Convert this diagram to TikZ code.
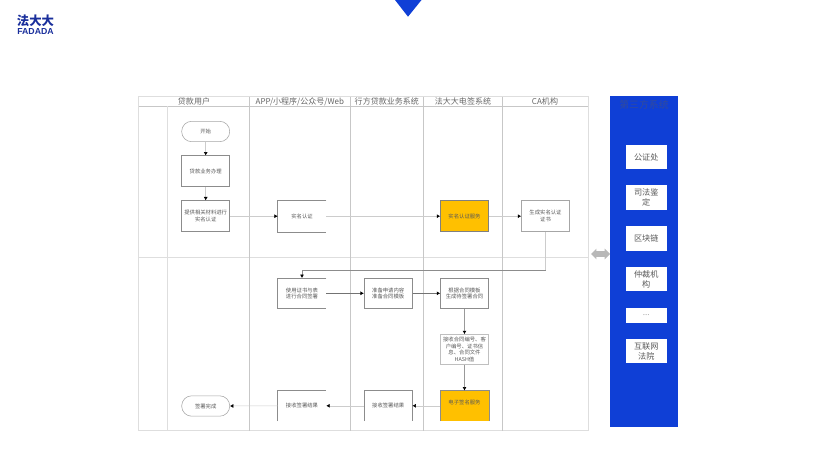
\documentclass[tikz,border=0pt]{standalone}
\usepackage{fontspec}
\newfontfamily\cjk{Noto Sans CJK SC}
\setmainfont{Liberation Sans}
\usetikzlibrary{arrows.meta,shapes.arrows}
\definecolor{fddblue}{HTML}{0F3FD6}
\definecolor{fddnavy}{HTML}{1A2F9C}
\definecolor{fddyellow}{HTML}{FFC000}
\definecolor{fddtitle}{HTML}{334B9A}
\begin{document}
\begin{tikzpicture}[x=0.025cm,y=-0.025cm]
\tikzset{
    laneline/.style={line width=.5pt, color=black!22},
    laneout/.style={line width=.5pt, color=black!13},
    lanehead/.style={font=\cjk\fontsize{5.7}{7}\selectfont, text=black!60, inner sep=0pt},
    boxtext/.style={font=\cjk\fontsize{3.8}{4.7}\selectfont, text=black!65, align=center, inner sep=0pt,
        minimum width=1.2cm, minimum height=.75cm},
    part/.style={boxtext, draw=black!45, line width=.5pt, fill=white},
    partD/.style={boxtext, draw=black!25, line width=.5pt, fill=white},
    partF/.style={boxtext, draw=black!50, line width=.5pt, fill=fddyellow},
    partO/.style={boxtext},
    edgeO/.style={line width=.5pt, color=black!45},
    term/.style={boxtext, draw=black!35, line width=.4pt, rounded corners=.25cm, fill=white,
        minimum height=.51cm},
    flow/.style={line width=.35pt, color=black!20, -{Latex[color=black,length=2.4pt,width=2.8pt]}},
    flowD/.style={line width=.4pt, color=black!55, -{Latex[color=black,length=2.4pt,width=2.8pt]}},
    third/.style={font=\cjk\fontsize{5.8}{7.1}\selectfont, text=black!65, align=center, fill=white,
        inner sep=0pt, minimum width=1.02cm}}
\def\hh{.775cm}

\useasboundingbox (0,0) rectangle (820,460);

% logo and top mark
\fill[fddblue] (395,0)--(421.5,0)--(408,16.7)--cycle;
\node[font=\cjk\bfseries\fontsize{8.8}{9}\selectfont, text=fddnavy, inner sep=0pt] (logocn) at (35.5,21) {法大大};
\node[font=\bfseries\fontsize{6.2}{6.2}\selectfont, text=fddnavy, inner sep=0pt] (logoen) at (35.5,31.3) {FADADA};

% lanes
\draw[laneout] (138.7,96.7) rectangle (588,430.7);
\draw[laneline] (138.7,106.3)--(588,106.3);
\draw[laneout] (138.7,257.3)--(588,257.3);
\draw[laneout] (167.3,106.3)--(167.3,430.7);
\draw[laneline] (249.3,96.7)--(249.3,430.7);
\draw[laneline] (350.3,96.7)--(350.3,430.7);
\draw[laneline] (423.3,96.7)--(423.3,430.7);
\draw[laneline] (502.3,96.7)--(502.3,430.7);

\node[lanehead] (headA) at (194,101.5) {贷款用户};
\node[lanehead] (headB) at (299.8,101.5) {APP/小程序/公众号/Web};
\node[lanehead] (headC) at (386.8,101.5) {行方贷款业务系统};
\node[lanehead] (headD) at (463,101.5) {法大大电签系统};
\node[lanehead] (headE) at (545,101.5) {CA机构};

% upper row
\node[term] (start) at (205.7,131.5) {开始};
\node[part, minimum height=\hh] (apply) at (205.7,171.3) {贷款业务办理};
\node[part, minimum height=\hh] (material) at (205.7,216.2) {提供相关材料进行\\实名认证};
\node[partO, minimum height=\hh] (realname) at (302,216.2) {实名认证};
\node[partF, minimum height=\hh] (realserv) at (464.5,216.2) {实名认证服务};
\node[part, draw=black!35, minimum height=\hh] (cert) at (545.5,216.2) {生成实名认证\\证书};
\draw[edgeO] (realname.north east)--(realname.north west)--(realname.south west)--(realname.south east);

% lower row
\node[partO] (sign) at (302,293.3) {使用证书与表\\进行合同签署};
\node[part] (prepare) at (388.2,293.3) {准备申请内容\\准备合同模板};
\node[part] (gen) at (464.5,293.3) {根据合同模板\\生成待签署合同};
\node[partD] (hash) at (464.5,349.5) {接收合同编号、客\\户编号、证书信\\息、合同文件\\HASH值};
\node[partF, draw=none, text depth=5pt] (esign) at (464.5,405.8) {电子签名服务};
\node[partO] (bankres) at (388.2,405.8) {接收签署结果};
\node[partO] (appres) at (302,405.8) {接收签署结果};
\node[term] (finish) at (205.7,406) {签署完成};
\draw[edgeO] (sign.north east)--(sign.north west)--(sign.south west)--(sign.south east);
\draw[edgeO] (esign.south west)--(esign.north west)--(esign.north east)--(esign.south east);
\draw[edgeO] (bankres.south west)--(bankres.north west)--(bankres.north east)--(bankres.south east);
\draw[edgeO] (appres.south west)--(appres.north west)--(appres.north east);

% connectors
\path (545.5,270.7) coordinate(bend);
\draw[flow] (start)--(apply);
\draw[flow] (apply)--(material);
\draw[flow] (material)--(realname);
\draw[flow] (realname)--(realserv);
\draw[flow] (realserv)--(cert);
\draw[line width=.35pt, color=black!20] (cert)--(bend);
\draw[flowD, line width=.7pt, color=black!45] (bend)-|(sign);
\draw[flowD] (sign)--(prepare);
\draw[flowD] (prepare)--(gen);
\draw[flowD, color=black!40] (gen)--(hash);
\draw[flowD, color=black!40] (hash)--(esign);
\draw[flow] (esign)--(bankres);
\draw[flow] (bankres)--(appres);
\draw[flow] (appres)--(finish);

% third party panel
\node[fill=fddblue, inner sep=0pt, minimum width=1.685cm, minimum height=8.26cm] (panel) at (644,261.5) {};
\node[font=\cjk\fontsize{7}{8}\selectfont, text=fddtitle, inner sep=0pt] (thirdtitle) at (644,104.7) {第三方系统};
\node[third, minimum height=.6cm] (notary) at (646.3,157) {公证处};
\node[third, minimum height=.625cm] (forensic) at (646.3,197.5) {司法鉴\\定};
\node[third, minimum height=.62cm] (chain) at (646.3,238.3) {区块链};
\node[third, minimum height=.6cm] (arbit) at (646.3,279) {仲裁机\\构};
\node[third, minimum height=.375cm, text=black!35] (more) at (646.3,315.5) {...};
\node[third, minimum height=.6cm] (court) at (646.3,351.3) {互联网\\法院};
\node[double arrow, fill=black!28, inner xsep=0pt, inner ysep=.0625cm, minimum height=.475cm, minimum width=.25cm,
    double arrow head extend=.0625cm, double arrow head indent=0cm] (link) at (600.5,254) {};

\end{tikzpicture}
\end{document}
